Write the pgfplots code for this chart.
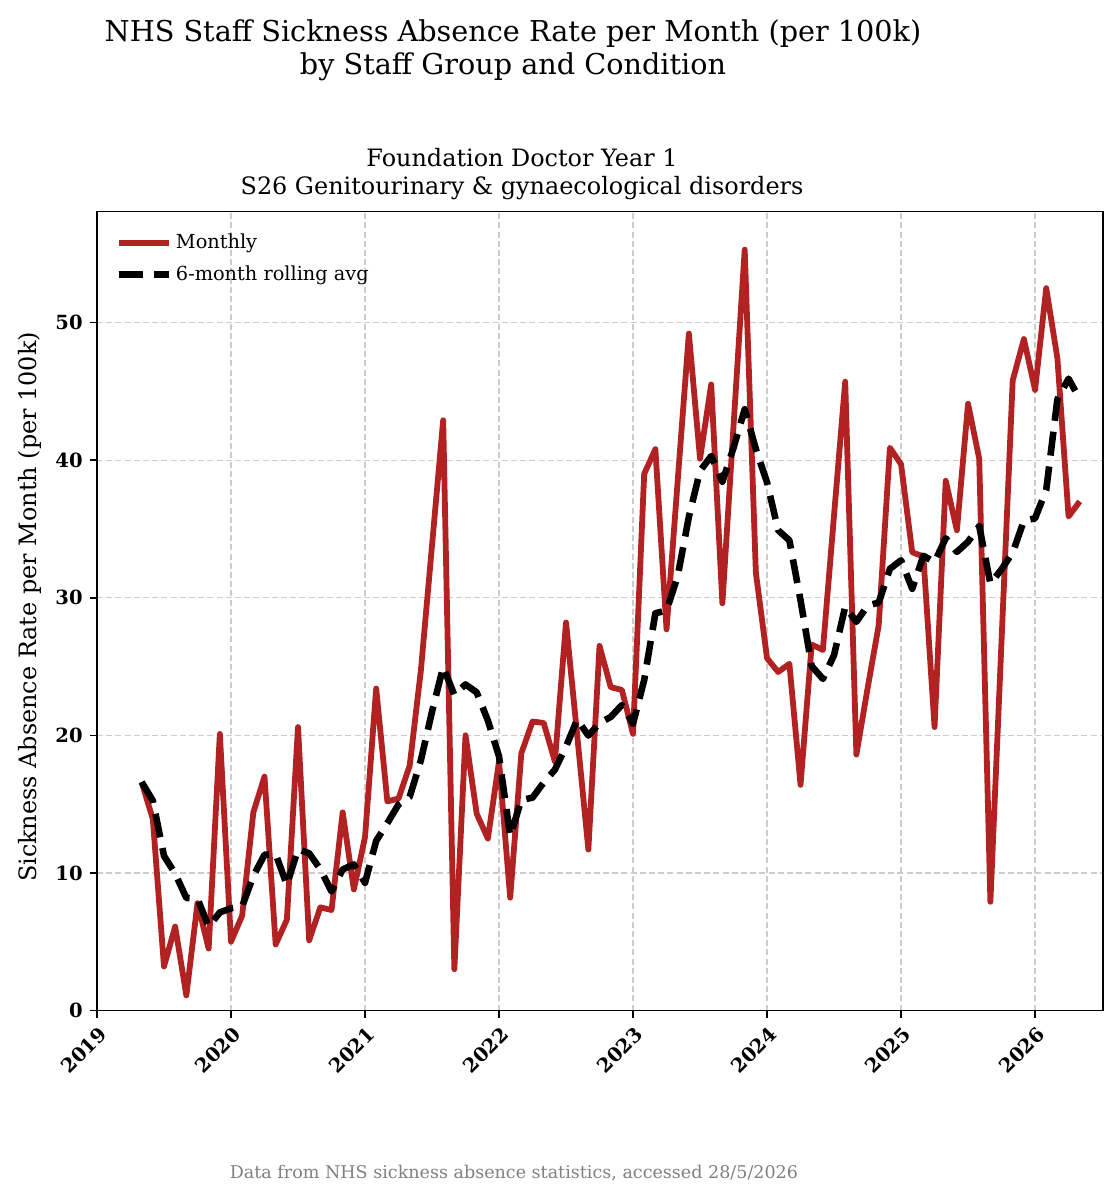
\documentclass[border=0pt]{standalone}
\usepackage{pgfplots}
\pgfplotsset{compat=1.18}
\usepackage{pgfplotstable}
\usepackage{fontspec}
\setmainfont{DejaVu Serif}
\definecolor{fire}{HTML}{B22222}
\definecolor{gridc}{HTML}{CCCCCC}
\definecolor{footc}{HTML}{808080}

\pgfplotstableread{
x m r
2019.3333 16.6 16.60
2019.4167 13.9 15.25
2019.5 3.2 11.23
2019.5833 6.1 9.95
2019.6667 1.1 8.18
2019.75 7.8 8.12
2019.8333 4.5 6.10
2019.9167 20.1 7.13
2020.0 5.0 7.43
2020.0833 6.9 7.57
2020.1667 14.4 9.78
2020.25 17.0 11.32
2020.3333 4.8 11.37
2020.4167 6.6 9.12
2020.5 20.6 11.72
2020.5833 5.1 11.42
2020.6667 7.5 10.27
2020.75 7.3 8.65
2020.8333 14.4 10.25
2020.9167 8.8 10.62
2021.0 12.6 9.28
2021.0833 23.4 12.33
2021.1667 15.2 13.62
2021.25 15.4 14.97
2021.3333 17.8 15.53
2021.4167 24.7 18.18
2021.5 33.8 21.72
2021.5833 42.9 24.97
2021.6667 3.0 22.93
2021.75 20.0 23.70
2021.8333 14.3 23.12
2021.9167 12.5 21.08
2022.0 18.1 18.47
2022.0833 8.2 12.68
2022.1667 18.7 15.30
2022.25 21.0 15.47
2022.3333 20.9 16.57
2022.4167 18.1 17.50
2022.5 28.2 19.18
2022.5833 20.0 21.15
2022.6667 11.7 19.98
2022.75 26.5 20.90
2022.8333 23.5 21.33
2022.9167 23.3 22.20
2023.0 20.1 20.85
2023.0833 39.0 24.02
2023.1667 40.8 28.87
2023.25 27.7 29.07
2023.3333 38.5 31.57
2023.4167 49.2 35.88
2023.5 40.1 39.22
2023.5833 45.5 40.30
2023.6667 29.6 38.43
2023.75 42.5 40.90
2023.8333 55.3 43.70
2023.9167 31.8 40.80
2024.0 25.6 38.38
2024.0833 24.6 34.90
2024.1667 25.2 34.17
2024.25 16.4 29.82
2024.3333 26.6 25.03
2024.4167 26.2 24.10
2024.5 36.0 25.83
2024.5833 45.7 29.35
2024.6667 18.6 28.25
2024.75 23.4 29.42
2024.8333 28.0 29.65
2024.9167 40.9 32.10
2025.0 39.7 32.72
2025.0833 33.3 30.65
2025.1667 33.0 33.05
2025.25 20.6 32.58
2025.3333 38.5 34.33
2025.4167 34.9 33.33
2025.5 44.1 34.07
2025.5833 40.1 35.20
2025.6667 7.9 31.02
2025.75 26.9 32.07
2025.8333 45.8 33.28
2025.9167 48.8 35.60
2026.0 45.1 35.77
2026.0833 52.5 37.83
2026.1667 47.4 44.42
2026.25 35.9 45.92
2026.3333 37.0 44.45
}\datatable

\begin{document}
\begin{tikzpicture}
\useasboundingbox (-48.5bp,-94.75bp) rectangle (511bp,505.25bp);
\begin{axis}[
  scale only axis,
  width=503bp, height=399.5bp,
  at={(0,0)}, anchor=south west,
  xmin=2019, xmax=2026.507,
  ymin=0, ymax=58.07,
  xtick={2019,2020,2021,2022,2023,2024,2025,2026},
  xticklabels={2019,2020,2021,2022,2023,2024,2025,2026},
  ytick={0,10,20,30,40,50},
  yticklabels={0,10,20,30,40,50},
  /pgf/number format/assume math mode=true,
  tick align=outside,
  xtick pos=bottom, ytick pos=left,
  major tick length=3.5bp,
  tick style={black, line width=0.8bp},
  axis line style={line width=0.8bp},
  grid=major,
  major grid style={gridc, line width=0.6bp, dash pattern=on 3bp off 1.6bp},
  ticklabel style={font=\fontsize{9.8}{11}\selectfont\bfseries},
  xticklabel style={rotate=45, anchor=north east, inner sep=1bp, xshift=-1.5bp, yshift=-2bp},
  yticklabel style={inner sep=3.5bp},
  legend style={draw=none, fill=none, at={(axis description cs:0,1)}, anchor=north west,
    xshift=6bp, yshift=-7bp, font=\fontsize{9.7}{12}\selectfont, row sep=3bp,
    cells={anchor=west}},
  legend image code/.code={\draw[#1] (0bp,0bp) -- (25bp,0bp);},
]
\addplot[fire, line width=2.9bp, line join=round] table[x=x, y=m] {\datatable};
\addlegendentry{Monthly}
\addplot[black, line width=3.3bp, line join=round, dash pattern=on 12bp off 5.5bp] table[x=x, y=r] {\datatable};
\addlegendentry{6-month rolling avg}
\end{axis}
\node[anchor=base, font=\fontsize{14.4}{17}\selectfont] at (208bp,484.4bp) {NHS Staff Sickness Absence Rate per Month (per 100k)};
\node[anchor=base, font=\fontsize{14.4}{17}\selectfont] at (208bp,467.75bp) {by Staff Group and Condition};
\node[anchor=base, font=\fontsize{12}{15}\selectfont] at (212.5bp,421.75bp) {Foundation Doctor Year 1};
\node[anchor=base, font=\fontsize{12}{15}\selectfont] at (212.5bp,407.75bp) {S26 Genitourinary \& gynaecological disorders};
\node[rotate=90, font=\fontsize{12}{14}\selectfont] at (-33.5bp,201.75bp) {Sickness Absence Rate per Month (per 100k)};
\node[anchor=base, text=footc, font=\fontsize{8.8}{11}\selectfont] at (208.5bp,-83.75bp) {Data from NHS sickness absence statistics, accessed 28/5/2026};
\end{tikzpicture}
\end{document}
